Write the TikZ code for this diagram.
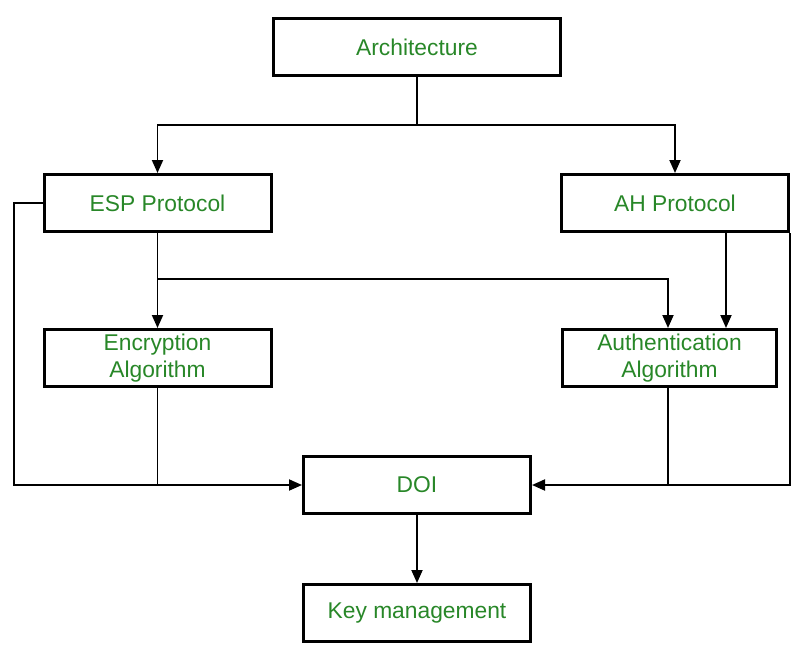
\documentclass[tikz,border=0pt]{standalone}
\usepackage{fontspec}
\setmainfont{Liberation Sans}
\usetikzlibrary{positioning}
\usetikzlibrary{arrows.meta}
\usetikzlibrary{calc}
\definecolor{labelGreen}{RGB}{40,135,40}

\begin{document}
\begin{tikzpicture}[x=1pt,y=-1pt,
  box/.style={draw, line width=3pt, minimum width=227pt, minimum height=57pt,
    inner sep=0pt, text=labelGreen, align=center, font=\fontsize{22.8}{27}\selectfont},
  link/.style={line width=1.9pt, -{Triangle[length=13pt,width=11pt]}},
  wire/.style={line width=1.9pt},
]
\useasboundingbox (0,0) rectangle (803,659);

% boxes
\node [box, minimum width=287pt] (arch) at (417,47) {Architecture};
\node [box] (esp) at (157.5,203) {ESP Protocol};
\node [box] (ah) at (675,203) {AH Protocol};
\node [box] (enc) at (157.5,358) {Encryption\\Algorithm};
\node [box, minimum width=214pt] (auth) at (669.5,358) {Authentication\\Algorithm};
\node [box] (doi) at (417,485) {DOI};
\node [box] (key) at (417,613) {Key management};

% helper points
\coordinate (split) at (417,125);
\coordinate (branch) at (157,279);
\coordinate (ahdrop) at (726,0);
\coordinate (leftrail) at (14,0);

% connectors
\draw [wire] (arch.south) -- (split);
\draw [link] (split) -| (esp.north);
\draw [link] (split) -| (ah.north);
\draw [link] (esp.south) -- (enc.north);
\draw [link] (branch) -| ([xshift=-1.5pt]auth.north);
\draw [link] (ah.south -| ahdrop) -- (auth.north -| ahdrop);
\draw [link] (esp.west) -- (esp.west -| leftrail) |- (doi.west);
\draw [link] (ah.south east) |- (doi.east);
\draw [wire] (enc.south) -- (enc.south |- doi.west);
\draw [wire] ([xshift=-1.5pt]auth.south) -- ([xshift=-1.5pt]auth.south |- doi.east);
\draw [link] (doi) -- (key);
\end{tikzpicture}
\end{document}
